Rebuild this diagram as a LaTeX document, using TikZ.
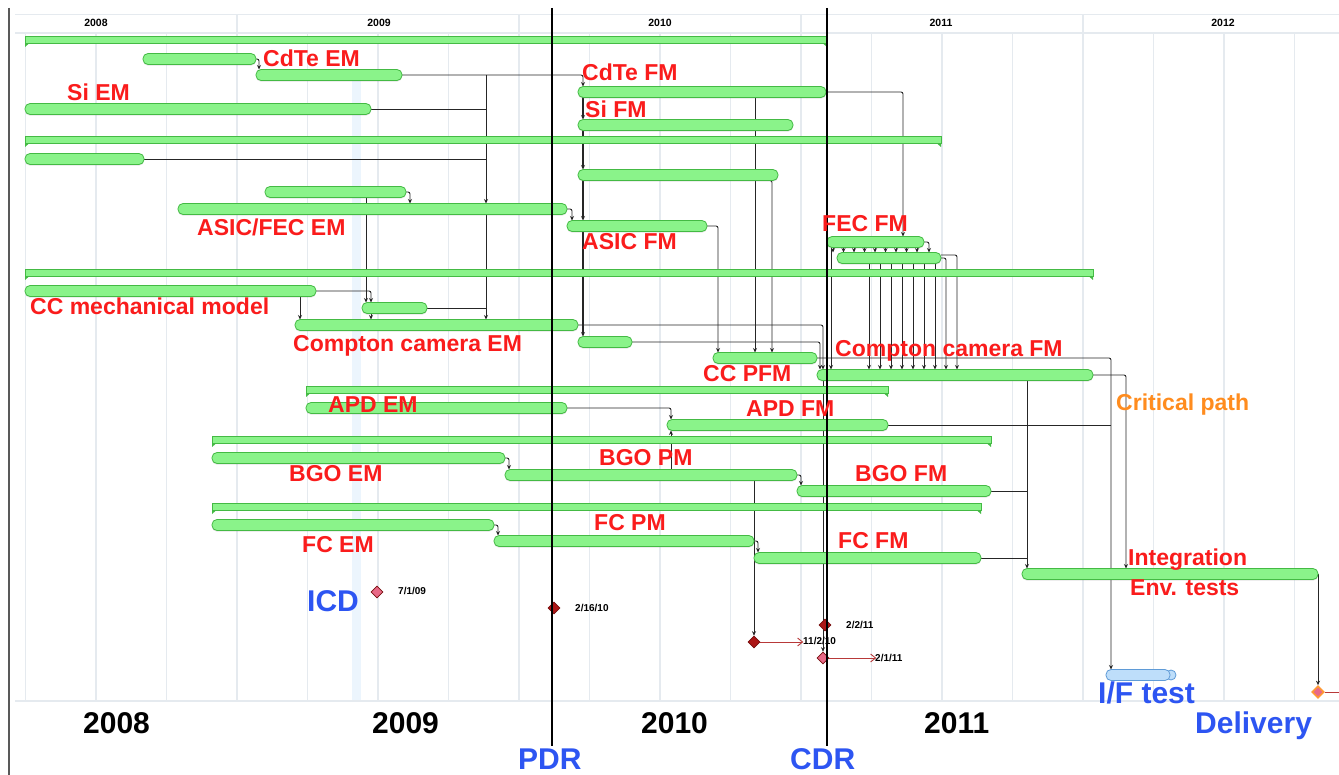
\documentclass[tikz,border=0pt]{standalone}
\usepackage{fontspec}
\setmainfont{Liberation Sans}
\usetikzlibrary{arrows.meta,shapes.geometric,shadows}

\definecolor{barfill}{RGB}{138,243,138}
\definecolor{barline}{RGB}{68,186,68}
\definecolor{gridc}{RGB}{229,234,239}
\definecolor{labred}{RGB}{250,28,28}
\definecolor{labblue}{RGB}{45,85,242}
\definecolor{laborange}{RGB}{255,140,30}
\definecolor{mstone}{RGB}{172,22,22}
\definecolor{mpink}{RGB}{232,105,135}
\definecolor{ifill}{RGB}{190,222,250}
\definecolor{iline}{RGB}{95,155,215}
\definecolor{bandc}{RGB}{236,245,253}
\definecolor{linkc}{RGB}{38,38,38}

\newcommand\fsz[1]{\fontsize{#1}{#1}\selectfont}
% task bar: name, start x, end x, row y
\newcommand\taskbar[4]{\node[taskbar, minimum width={(#3-#2)*1pt}] (#1) at ({(#2+#3)/2},#4) {};}
% summary bar with end tabs
\newcommand\sumbar[4]{\node[sumbar, minimum width={(#3-#2)*1pt}] (#1) at ({(#2+#3)/2},#4) {};
  \fill[barline] (#1.south west) -- ++(0,3.5) -- ++(4,-3.5) -- cycle;
  \fill[barline] (#1.south east) -- ++(0,3.5) -- ++(-4,-3.5) -- cycle;}

\pgfdeclarelayer{grid}
\pgfdeclarelayer{links}
\pgfdeclarelayer{front}
\pgfsetlayers{grid,links,main,front}

\tikzset{
  taskbar/.style={draw=barline, fill=barfill, line width=0.8pt, rounded corners=5pt,
    minimum height=11pt, inner sep=0pt, outer sep=0pt,
    drop shadow={shadow xshift=0pt, shadow yshift=-1.2pt, opacity=0.22}},
  sumbar/.style={draw=barline, fill=barfill, line width=0.8pt, minimum height=7pt,
    inner sep=0pt, outer sep=0pt},
  ifbar/.style={draw=iline, fill=ifill, line width=0.8pt, rounded corners=5pt,
    minimum height=11pt, inner sep=0pt, outer sep=0pt},
  dep/.style={draw=linkc, line width=0.9pt, rounded corners=2pt,
    -{Stealth[length=4.5pt,width=4pt]}},
  feed/.style={draw=linkc, line width=0.9pt, rounded corners=2pt},
  marr/.style={draw=mstone!85, line width=0.9pt, -{Straight Barb[length=5pt,width=8pt]}},
  lbl/.style={text=labred, font=\bfseries\fsz{23}, inner sep=0pt, anchor=base west},
  blbl/.style={text=labblue, font=\bfseries\fsz{30}, inner sep=0pt, anchor=base west},
  ylbl/.style={text=black, font=\bfseries\fsz{30}, inner sep=0pt, anchor=base west},
  hlbl/.style={text=black, font=\bfseries\fsz{10.5}, inner sep=0pt, anchor=base},
  dlbl/.style={text=black, font=\bfseries\fsz{10}, inner sep=0pt, anchor=base west},
  mdark/.style={shape=diamond, minimum width=12pt, minimum height=12pt, inner sep=0pt,
    fill=mstone, draw=mstone!70!black, line width=0.6pt},
  mlight/.style={mdark, fill=mpink},
}

\begin{document}
\begin{tikzpicture}[x=1pt,y=-1pt]
\useasboundingbox (0,0) rectangle (1339,775);

% ---------- time grid ----------
\begin{pgfonlayer}{grid}
  \fill[white] (0,0) rectangle (1339,775);
  \fill[bandc] (352,80) rectangle (361,701);
  \foreach \k in {1,...,19}{
    \draw[gridc, line width=1.2pt] ({-45+70.5*\k},33) -- ({-45+70.5*\k},701);
  }
  \foreach \k in {4,8,12,16}{
    \draw[gridc, line width=1.7pt] ({-45+70.5*\k},15) -- ({-45+70.5*\k},701);
  }
  \draw[gridc, line width=1pt] (15,15) -- (1339,15);
  \draw[gridc, line width=2.2pt] (15,33) -- (1339,33);
  \draw[gridc, line width=1.2pt] (15,701) -- (1339,701);
  \draw[black!65, line width=1.2pt] (9,8) -- (9,775);
\end{pgfonlayer}

% header years
\node[hlbl] (h2008) at (96,27) {2008};
\node[hlbl] (h2009) at (379,27) {2009};
\node[hlbl] (h2010) at (660,27) {2010};
\node[hlbl] (h2011) at (941,27) {2011};
\node[hlbl] (h2012) at (1223,27) {2012};

% ---------- bars ----------
\sumbar{sA}{25}{827}{40}
\taskbar{cdteA}{143}{256}{59}
\taskbar{cdteEM}{256}{402}{75}
\taskbar{cdteFM}{578}{826}{92}
\taskbar{siEM}{25}{371}{109}
\taskbar{siFM}{578}{793}{125}
\sumbar{sB}{25}{941}{140}
\taskbar{rA}{25}{144}{159}
\taskbar{rB}{578}{778}{175}
\taskbar{rC}{265}{406}{192}
\taskbar{asicEM}{178}{567}{209}
\taskbar{asicFM}{567}{707}{226}
\taskbar{fecFM}{827}{924}{242}
\taskbar{fecB}{837}{941}{258}
\sumbar{sC}{25}{1093}{273}
\taskbar{ccMech}{25}{316}{291}
\taskbar{rD}{362}{427}{308}
\taskbar{ccEM}{295}{578}{325}
\taskbar{rE}{578}{632}{342}
\taskbar{ccPFM}{713}{817}{358}
\taskbar{ccFM}{817}{1093}{375}
\sumbar{sD}{306}{888}{390}
\taskbar{apdEM}{306}{567}{408}
\taskbar{apdFM}{667}{888}{425}
\sumbar{sE}{212}{991}{440}
\taskbar{bgoEM}{212}{505}{458}
\taskbar{bgoPM}{505}{797}{475}
\taskbar{bgoFM}{797}{991}{491}
\sumbar{sF}{212}{981}{507}
\taskbar{fcEM}{212}{494}{525}
\taskbar{fcPM}{494}{754}{541}
\taskbar{fcFM}{754}{981}{558}
\taskbar{integ}{1022}{1318}{574}
\node[ifbar, minimum width=64pt] (ifTest) at (1138,675) {};

% ---------- milestones ----------
\node[mlight] (icd) at (377,592) {};
\node[mdark] (pdrM) at (554,608) {};
\node[mdark] (cdrM) at (825,625) {};
\node[mdark] (m4) at (754,642) {};
\node[mlight] (m5) at (823,658) {};
\node[mlight, draw=orange!80, line width=1.6pt] (delivery) at (1318,692) {};

% ---------- routing columns ----------
\coordinate (colA) at (486,0);
\coordinate (colB) at (583,0);
\coordinate (colC) at (366,0);
\coordinate (colD) at (755,0);
\coordinate (colE) at (772,0);
\coordinate (colF) at (718,0);
\coordinate (colG) at (903,0);
\coordinate (colH) at (1126,0);
\coordinate (colI) at (1111,0);
\coordinate (colJ) at (1027,0);
\coordinate (colK) at (671,0);
\coordinate (colL) at (754,0);
\coordinate (colM) at (823,0);
\coordinate (colN) at (300,0);
\coordinate (colP) at (371,0);
\coordinate (colQ) at (723,0);
\coordinate (colR) at (637,0);
\coordinate (colS) at (831,0);

% ---------- dependencies ----------
\begin{pgfonlayer}{links}
  \draw[iline, line width=0.8pt, fill=ifill] (1171,675) circle (5);
  % detector EM chain
  \draw[dep] (cdteA.east) -| ([xshift=3pt]cdteEM.north west);
  \draw[dep] (cdteEM.east) -| ([xshift=5pt]cdteFM.north west);
  \draw[feed] (siEM.east) -- (colA |- siEM.east);
  \draw[feed] (rA.east) -- (colA |- rA.east);
  \draw[feed] (rD.east) -- (colA |- rD.east);
  \draw[dep] (colA |- cdteEM.east) -- (colA |- asicEM.north);
  \draw[dep] (colA |- asicEM.south) -- (colA |- ccEM.north);
  % ASIC / mechanical chain
  \draw[dep] (rC.east) -| ([xshift=4pt]rC.east |- asicEM.north);
  \draw[dep] (colC |- rC.south) -- (colC |- rD.north);
  \draw[dep] (ccMech.east) -| ([xshift=9pt]rD.north west);
  \draw[dep] (colN |- ccMech.south) -- (colN |- ccEM.north);
  \draw[dep] (colP |- rD.south) -- (colP |- ccEM.north);
  % flight model trunk
  \draw[dep, line width=1.5pt] (colB |- cdteFM.south) -- (colB |- siFM.north);
  \draw[dep, line width=1.5pt] (colB |- siFM.south) -- (colB |- rB.north);
  \draw[dep, line width=1.5pt] (colB |- rB.south) -- (colB |- asicFM.north);
  \draw[dep, line width=1.5pt] (colB |- asicFM.south) -- (colB |- rE.north);
  \draw[dep] (asicEM.east) -| ([xshift=5pt]asicEM.east |- asicFM.north);
  % into CC PFM
  \draw[feed] (colQ |- cdteFM.south) -- (colD |- cdteFM.south);
  \draw[feed] (colQ |- siFM.south) -- (colD |- siFM.south);
  \draw[dep] (colD |- cdteFM.south) -- (colD |- ccPFM.north);
  \draw[dep] (colR |- rB.south) -| (colE |- ccPFM.north);
  \draw[dep] (asicFM.east) -| (colF |- ccPFM.north);
  % into Compton camera FM
  \draw[dep] (ccEM.east) -| ([xshift=6pt]ccFM.north west);
  \draw[dep] (rE.east) -| ([xshift=3pt]ccFM.north west);
  \draw[dep] (cdteFM.east) -| (colG |- fecFM.north);
  \foreach \o in {6,16.5,27,37.5,48,58.5,69,79.5,90}{
    \draw[dep] ([xshift=\o pt]fecFM.south west) -- ([xshift=\o pt]fecFM.south west |- fecB.north);
  }
  \draw[dep] (fecFM.east) -| ([xshift=5pt]fecFM.east |- fecB.north);
  \foreach \o in {32,43,54,65,76,87,98}{
    \draw[dep] ([xshift=\o pt]fecB.south west) -- ([xshift=\o pt]fecB.south west |- ccFM.north);
  }
  \draw[dep] (fecB.east) -| ([xshift=5pt]fecB.east |- ccFM.north);
  \draw[dep] ([yshift=3pt]fecB.east) -| ([xshift=16pt]fecB.east |- ccFM.north);
  \draw[dep] (colS |- fecFM.south) -- (colS |- ccFM.north);
  % integration and tests
  \draw[dep] (ccFM.east) -| (colH |- integ.north);
  \draw[dep] (ccPFM.east) -| (colI |- ifTest.north);
  \draw[feed] (apdFM.east) -- (colI |- apdFM.east);
  \draw[dep] (colJ |- ccFM.south) -- (colJ |- integ.north);
  \draw[feed] (bgoFM.east) -- (colJ |- bgoFM.east);
  \draw[feed] (fcFM.east) -- (colJ |- fcFM.east);
  \draw[dep] (integ.east) -- (delivery.north);
  % APD, BGO, FC chains
  \draw[dep] (apdEM.east) -| ([xshift=4pt]apdFM.north west);
  \draw[dep] (colK |- bgoPM.north) -- (colK |- apdFM.south);
  \draw[dep] (bgoEM.east) -| ([xshift=4pt]bgoEM.east |- bgoPM.north);
  \draw[dep] (bgoPM.east) -| ([xshift=4pt]bgoPM.east |- bgoFM.north);
  \draw[dep] (fcEM.east) -| ([xshift=4pt]fcEM.east |- fcPM.north);
  \draw[dep] (fcPM.east) -| ([xshift=4pt]fcPM.east |- fcFM.north);
  % milestones
  \draw[dep] (colL |- bgoPM.south) -- (m4.north);
  \draw[dep] (colM |- ccFM.south) -- (m5.north);
  \draw[marr] (m4.east) -- ++(43,0);
  \draw[marr] (m5.east) -- ++(47,0);
  \draw[mstone!85, line width=0.9pt] (delivery.east) -- ++(20,0);
\end{pgfonlayer}

% ---------- review lines and labels ----------
\begin{pgfonlayer}{front}
  \node[blbl] (pdrLbl) at (518,769) {PDR};
  \node[blbl] (cdrLbl) at (790,769) {CDR};
  \coordinate (pdrTop) at (552,8);
  \coordinate (cdrTop) at (827,8);
  \draw[black, line width=1.3pt] (pdrTop) -- (pdrTop |- 0,746);
  \draw[black, line width=1.3pt] (cdrTop) -- (cdrTop |- 0,746);

  \node[lbl] (tCdteEM) at (263,67) {CdTe EM};
  \node[lbl] (tSiEM) at (67,101) {Si EM};
  \node[lbl] (tCdteFM) at (582,81) {CdTe FM};
  \node[lbl] (tSiFM) at (585,118) {Si FM};
  \node[lbl] (tAsicEM) at (197,236) {ASIC/FEC EM};
  \node[lbl] (tAsicFM) at (582,250) {ASIC FM};
  \node[lbl] (tFecFM) at (822,232) {FEC FM};
  \node[lbl] (tCcMech) at (30,315) {CC mechanical model};
  \node[lbl] (tCcEM) at (293,352) {Compton camera EM};
  \node[lbl] (tCcFM) at (835,357) {Compton camera FM};
  \node[lbl] (tCcPFM) at (703,382) {CC PFM};
  \node[lbl] (tApdEM) at (328,413) {APD EM};
  \node[lbl] (tApdFM) at (746,417) {APD FM};
  \node[lbl, text=laborange] (tCrit) at (1116,411) {Critical path};
  \node[lbl] (tBgoEM) at (289,482) {BGO EM};
  \node[lbl] (tBgoPM) at (599,465) {BGO PM};
  \node[lbl] (tBgoFM) at (855,482) {BGO FM};
  \node[lbl] (tFcEM) at (302,552) {FC EM};
  \node[lbl] (tFcPM) at (594,530) {FC PM};
  \node[lbl] (tFcFM) at (838,548) {FC FM};
  \node[lbl] (tInteg) at (1128,565) {Integration};
  \node[lbl] (tEnv) at (1130,595) {Env. tests};

  \node[blbl] (tIcd) at (307,611) {ICD};
  \node[blbl] (tIf) at (1098,703) {I/F test};
  \node[blbl] (tDel) at (1195,733) {Delivery};

  \node[ylbl] (y2008) at (83,733) {2008};
  \node[ylbl] (y2009) at (372,733) {2009};
  \node[ylbl] (y2010) at (641,733) {2010};
  \node[ylbl] (y2011) at (924,733) {2011};

  \node[dlbl] (dIcd) at (398,594) {7/1/09};
  \node[dlbl] (dPdr) at (575,611) {2/16/10};
  \node[dlbl] (dCdr) at (846,628) {2/2/11};
  \node[dlbl] (dM4) at (803,644) {11/2/10};
  \node[dlbl] (dM5) at (875,661) {2/1/11};
\end{pgfonlayer}
\end{tikzpicture}
\end{document}
